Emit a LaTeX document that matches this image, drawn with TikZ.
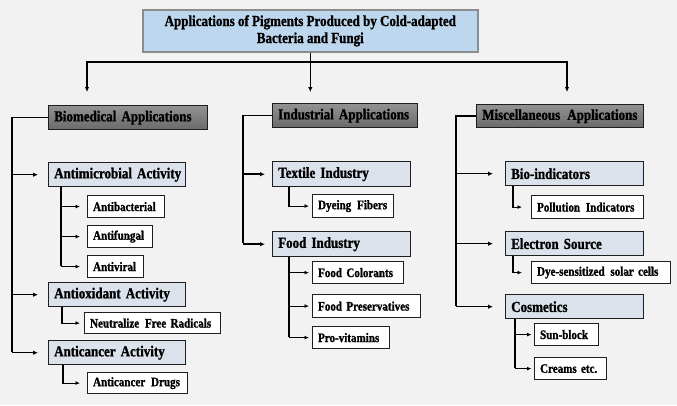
\documentclass[tikz,border=0pt]{standalone}
\usepackage{fontspec}
\setmainfont{Liberation Serif}[FakeStretch=0.85, BoldFeatures={FakeBold=1.2}]
\usetikzlibrary{arrows.meta}
\definecolor{bg}{HTML}{F2F2F2}
\definecolor{titlefill}{HTML}{BDD7EE}
\definecolor{titledraw}{HTML}{8C8C8C}
\definecolor{hdrtop}{HTML}{929292}
\definecolor{hdrbot}{HTML}{6A6A6A}
\definecolor{subfill}{HTML}{DCE2EC}
\definecolor{boxdraw}{HTML}{1E1E1E}
\begin{document}
\begin{tikzpicture}[x=1pt,y=-1pt,
  bx/.style={anchor=north west, inner xsep=5.5pt, inner ysep=0pt, align=left, draw=boxdraw},
  hdr/.style={bx, top color=hdrtop, bottom color=hdrbot, line width=1.4pt, font=\fontsize{15.3}{17}\selectfont\bfseries},
  sub/.style={bx, fill=subfill, line width=1.4pt, font=\fontsize{15.3}{17}\selectfont\bfseries},
  leaf/.style={bx, fill=white, line width=1.2pt, font=\fontsize{13}{15}\selectfont\bfseries},
  conn/.style={line width=1.5pt, black},
  arr/.style={conn, -{Latex[length=5pt,width=4.5pt]}},
  sconn/.style={line width=1.2pt, black},
  sarr/.style={sconn, -{Latex[length=4.5pt,width=4pt]}}
]
\fill[bg] (0,0) rectangle (677,405);
\useasboundingbox (0,0) rectangle (677,405);

% title
\node[anchor=north west, draw=titledraw, fill=titlefill, line width=1.6pt, inner sep=0pt,
  minimum width=335pt, minimum height=42pt, align=center,
  font=\fontsize{15.3}{17}\selectfont\bfseries] (title) at (142,9)
  {Applications of Pigments Produced by Cold-adapted\\Bacteria and Fungi};

% level-1 headers
\node[hdr, text width=148pt, minimum height=24pt] (bio) at (48,105) {\mbox{Biomedical Applications}};
\node[hdr, text width=134pt, minimum height=24pt] (ind) at (272,103) {\mbox{Industrial Applications}};
\node[hdr, text width=156pt, minimum height=23pt] (misc) at (476,104) {\mbox{Miscellaneous\hspace{2pt} Applications}};

% biomedical
\node[sub, text width=126pt, minimum height=24pt] (am) at (48,162) {\mbox{Antimicrobial Activity}};
\node[leaf, text width=66pt, minimum height=22pt] (ab) at (87,195) {\mbox{Antibacterial}};
\node[leaf, text width=54pt, minimum height=22pt] (af) at (87,225) {\mbox{Antifungal}};
\node[leaf, text width=45pt, minimum height=22pt] (av) at (87,255) {\mbox{Antiviral}};
\node[sub, text width=126pt, minimum height=24pt] (ao) at (48,282) {\mbox{Antioxidant Activity}};
\node[leaf, text width=125pt, minimum height=21pt] (nf) at (84,312) {\mbox{Neutralize\hspace{1.5pt} Free Radicals}};
\node[sub, text width=126pt, minimum height=24pt] (ac) at (48,340) {\mbox{Anticancer Activity}};
\node[leaf, text width=89pt, minimum height=21pt] (ad) at (87,372) {\mbox{Anticancer\hspace{1.5pt} Drugs}};

% industrial
\node[sub, text width=127pt, minimum height=25pt] (tx) at (272,161) {\mbox{Textile Industry}};
\node[leaf, text width=70pt, minimum height=23pt] (df) at (312,194) {\mbox{Dyeing\hspace{1.5pt} Fibers}};
\node[sub, text width=127pt, minimum height=25pt] (fi) at (272,231) {\mbox{Food Industry}};
\node[leaf, text width=80pt, minimum height=22pt] (fc) at (312,261) {\mbox{Food Colorants}};
\node[leaf, text width=97pt, minimum height=23pt] (fp) at (312,294) {\mbox{Food Preservatives}};
\node[leaf, text width=66pt, minimum height=22pt] (pv) at (312,326) {\mbox{Pro-vitamins}};

% miscellaneous
\node[sub, text width=127pt, minimum height=24pt] (bi) at (505,161) {\mbox{Bio-indicators}};
\node[leaf, text width=101pt, minimum height=23pt] (pi) at (531,195) {\mbox{Pollution\hspace{1.5pt} Indicators}};
\node[sub, text width=127pt, minimum height=24pt] (es) at (505,231) {\mbox{Electron Source}};
\node[leaf, text width=128pt, minimum height=22pt] (ds) at (531,261) {\mbox{Dye-sensitized\hspace{1.5pt} solar cells}};
\node[sub, text width=127pt, minimum height=24pt] (co) at (505,294) {\mbox{Cosmetics}};
\node[leaf, text width=53pt, minimum height=22pt] (sb) at (534,323) {\mbox{Sun-block}};
\node[leaf, text width=61pt, minimum height=22pt] (ce) at (534,357) {\mbox{Creams etc.}};

% top tree
\coordinate (hL) at (87,62);
\coordinate (hR) at (567,62);
\coordinate (tipY) at (0,92);
\draw[conn] (title.south) -- (title.south |- hL);
\draw[conn] ([xshift=-0.75pt]hL) -- ([xshift=0.75pt]hR);
\draw[arr] (hL) -- (hL |- tipY);
\draw[arr] (title.south |- hL) -- (title.south |- tipY);
\draw[arr] (hR) -- (hR |- tipY);

% biomedical connectors
\coordinate (bx) at (12,0);
\draw[conn] (bio.west) -- (bio.west -| bx) -- ([yshift=0.75pt]ac.west -| bx);
\draw[arr] (am.west -| bx) -- ([xshift=-10pt]am.west);
\draw[arr] (ao.west -| bx) -- ([xshift=-10pt]ao.west);
\draw[arr] (ac.west -| bx) -- ([xshift=-10pt]ac.west);

\coordinate (amx) at (61,0);
\draw[sconn] (am.south -| amx) -- ([yshift=0.6pt]av.west -| amx);
\draw[sarr] (ab.west -| amx) -- ([xshift=-7pt]ab.west);
\draw[sarr] (af.west -| amx) -- ([xshift=-7pt]af.west);
\draw[sarr] (av.west -| amx) -- ([xshift=-7pt]av.west);

\coordinate (aox) at (62,0);
\draw[sarr] (ao.south -| aox) |- ([xshift=-4pt]nf.west);
\coordinate (acx) at (63,0);
\draw[sarr] (ac.south -| acx) |- ([xshift=-7pt]ad.west);

% industrial connectors
\coordinate (ix) at (243,0);
\draw[conn] (ind.west) -- (ind.west -| ix) -- ([yshift=0.75pt]fi.west -| ix);
\draw[arr] (tx.west -| ix) -- ([xshift=-7pt]tx.west);
\draw[arr] (fi.west -| ix) -- ([xshift=-7pt]fi.west);

\coordinate (tix) at (289,0);
\draw[sarr] (tx.south -| tix) |- ([xshift=-3pt]df.west);
\draw[sconn] (fi.south -| tix) -- ([yshift=0.6pt]pv.west -| tix);
\draw[sarr] (fc.west -| tix) -- ([xshift=-3pt]fc.west);
\draw[sarr] (fp.west -| tix) -- ([xshift=-3pt]fp.west);
\draw[sarr] (pv.west -| tix) -- ([xshift=-3pt]pv.west);

% miscellaneous connectors
\coordinate (mx) at (456,0);
\draw[conn] (misc.west) -- (misc.west -| mx) -- ([yshift=0.75pt]co.west -| mx);
\draw[arr] (bi.west -| mx) -- ([xshift=-12pt]bi.west);
\draw[arr] (es.west -| mx) -- ([xshift=-12pt]es.west);
\draw[arr] (co.west -| mx) -- ([xshift=-12pt]co.west);

\coordinate (bix) at (513,0);
\draw[sarr] (bi.south -| bix) |- ([xshift=-9pt]pi.west);
\draw[sarr] (es.south -| bix) |- ([xshift=-9pt]ds.west);
\coordinate (cox) at (515,0);
\draw[sconn] (co.south -| cox) -- ([yshift=0.6pt]ce.west -| cox);
\draw[sarr] (sb.west -| cox) -- ([xshift=-2.5pt]sb.west);
\draw[sarr] (ce.west -| cox) -- ([xshift=-2.5pt]ce.west);
\end{tikzpicture}
\end{document}
